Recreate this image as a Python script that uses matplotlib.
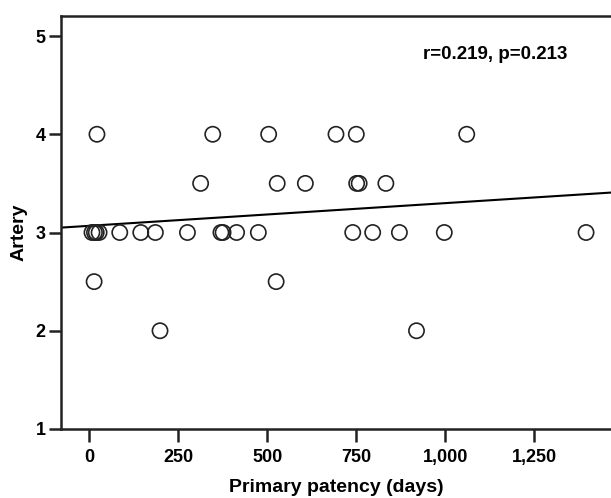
import matplotlib
matplotlib.use("Agg")
import numpy as np
import matplotlib.pyplot as plt
from matplotlib.ticker import FuncFormatter

# Primary patency (days) vs artery score
patency_days = [8, 15, 20, 28, 86, 145, 186, 276, 370, 376, 414, 475,
                740, 796, 871, 997, 1395,
                22, 347, 504, 693, 750, 1060,
                313, 528, 607, 751, 758, 833,
                14, 525,
                199, 919]
artery = [3, 3, 3, 3, 3, 3, 3, 3, 3, 3, 3, 3,
          3, 3, 3, 3, 3,
          4, 4, 4, 4, 4, 4,
          3.5, 3.5, 3.5, 3.5, 3.5, 3.5,
          2.5, 2.5,
          2, 2]

# fitted line as drawn in the reference
fit_intercept = 3.068
fit_slope = 0.000231
stats_text = "r=0.219, p=0.213"

x_ticks = [0, 250, 500, 750, 1000, 1250]
y_ticks = [1, 2, 3, 4, 5]

plt.rcParams['font.family'] = ['Liberation Sans', 'DejaVu Sans']
plt.rcParams['font.weight'] = 'bold'

fig = plt.figure(figsize=(6.11, 4.98), dpi=100)
ax = fig.add_axes([0.0998, 0.138, 0.9002, 0.8305])

ax.scatter(patency_days, artery, s=120, facecolors='none', edgecolors='#222222',
           linewidths=1.2, zorder=3)

xlim = (-79, 1465)
xs = np.array(xlim)
ax.plot(xs, fit_intercept + fit_slope * xs, color='black', lw=1.5, zorder=2)

ax.set_xlim(*xlim)
ax.set_ylim(0.997, 5.207)
ax.set_xticks(x_ticks)
ax.set_yticks(y_ticks)
ax.xaxis.set_major_formatter(FuncFormatter(lambda v, p: f"{int(v):,}"))

for side in ['left', 'bottom', 'top']:
    ax.spines[side].set_linewidth(1.8)
    ax.spines[side].set_color('#222222')
ax.spines['right'].set_visible(False)

ax.tick_params(axis='both', length=9, width=1.8, color='#222222',
               labelsize=13, labelcolor='black')
ax.tick_params(axis='x', pad=5)
ax.tick_params(axis='y', pad=2)

ax.set_xlabel("Primary patency (days)", fontsize=14, fontweight='bold', va='center')
ax.set_ylabel("Artery", fontsize=14, fontweight='bold')
ax.xaxis.set_label_coords(0.5, -0.141)
ax.yaxis.set_label_coords(-0.06, 0.477)

ax.text(0.789, 0.905, stats_text, transform=ax.transAxes, ha='center',
        va='center', fontsize=13.5, fontweight='bold')

plt.savefig("out.png", dpi=100)
